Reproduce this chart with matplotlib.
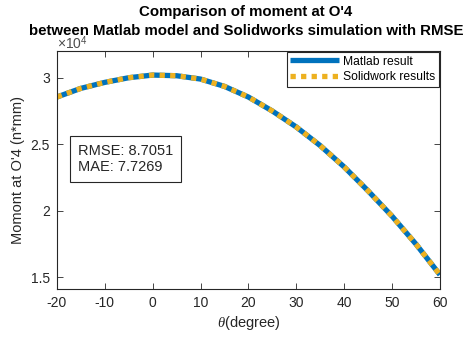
import numpy as np
import matplotlib.pyplot as plt
from matplotlib.ticker import FuncFormatter

plt.rcParams['font.family'] = ['Liberation Sans', 'DejaVu Sans']
plt.rcParams['mathtext.fontset'] = 'custom'
plt.rcParams['mathtext.it'] = 'Liberation Serif:italic'
plt.rcParams['mathtext.rm'] = 'Liberation Sans'

# data (moment in n*mm)
theta = [-20, -15, -10, -5, 0, 5, 10, 15, 20, 25, 30, 35, 40, 45, 50, 55, 60]
matlab_moment = [28550, 29200, 29650, 30000, 30200, 30150, 29900, 29350, 28550,
                 27500, 26300, 24900, 23300, 21500, 19600, 17500, 15200]
solidworks_moment = [28550, 29200, 29650, 30000, 30200, 30150, 29900, 29350, 28550,
                     27500, 26300, 24900, 23300, 21500, 19600, 17500, 15200]
rmse = 8.7051
mae = 7.7269

x_ticks = [-20, -10, 0, 10, 20, 30, 40, 50, 60]
y_ticks = [15000, 20000, 25000, 30000]

fig = plt.figure(figsize=(4.7, 3.38), dpi=100)
ax = fig.add_axes([0.121, 0.145, 0.815, 0.705])

ax.plot(theta, matlab_moment, color='#0072BD', lw=3.8, label='Matlab result',
        solid_capstyle='butt')
ax.plot(theta, solidworks_moment, color='#EDB120', lw=3.8, label='Solidwork results',
        dashes=(1.0, 1.0), dash_capstyle='butt')

ax.set_xlim(-20, 60)
ax.set_ylim(14130, 32030)
ax.set_xticks(x_ticks)
ax.set_yticks(y_ticks)
ax.xaxis.set_major_formatter(FuncFormatter(lambda v, p: '%g' % v))
ax.yaxis.set_major_formatter(FuncFormatter(lambda v, p: '%g' % (v / 1e4)))

gray = '#262626'
for s in ax.spines.values():
    s.set_color('#262626')
    s.set_linewidth(0.8)
ax.tick_params(direction='in', top=True, right=True, labelsize=10,
               colors=gray, length=4, width=0.6, pad=5)

ax.set_xlabel(r'$\theta$(degree)', fontsize=10.5, color=gray, labelpad=3)
ax.set_ylabel("Momont at O'4 (n*mm)", fontsize=10.5, color=gray, labelpad=4)

# title, two lines
fig.text(246 / 470, 1 - 12 / 338, "Comparison of moment at O'4", ha='center',
         va='center', fontsize=10.8, fontweight='bold')
fig.text(246 / 470, 1 - 31 / 338,
         "between Matlab model and Solidworks simulation with RMSE", ha='center',
         va='center', fontsize=10.8, fontweight='bold')
# exponent label
fig.text(57 / 470, 1 - 43 / 338, r'$\times10^4$', ha='left', va='center',
         fontsize=10, color='#4d4d4d')

leg = ax.legend(loc='upper right', fontsize=8.7, fancybox=False, framealpha=1,
                edgecolor='#262626', borderpad=0.3, handlelength=4.0,
                handletextpad=0.35, labelspacing=0.3, borderaxespad=0.1)
leg.get_frame().set_linewidth(0.8)

ax.text(0.055, 0.61, 'RMSE: %.4f\nMAE: %.4f' % (rmse, mae), transform=ax.transAxes,
        fontsize=10.5, va='top', ha='left', linespacing=1.25, color=gray,
        bbox=dict(boxstyle='square,pad=0.55', fc='white', ec='#262626', lw=0.8))

fig.savefig('out.png', dpi=100)
